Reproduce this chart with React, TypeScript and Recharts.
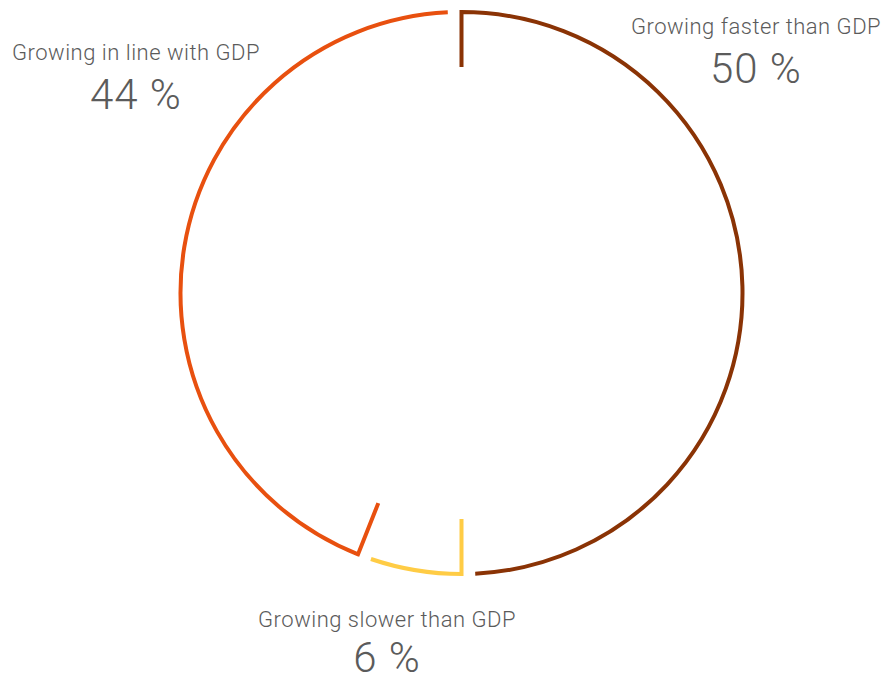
import { PieChart, Pie, Cell } from 'recharts'

const LABELS = ['Growing faster than GDP', 'Growing slower than GDP', 'Growing in line with GDP']
const VALUES = [50, 6, 44]
const COLORS = ['#8a3305', '#ffcc45', '#e8500f']

const data = LABELS.map((name, i) => ({ name, value: VALUES[i] }))

const GAP = 2.8 // degrees left open at the end of each arc
const TICK = 55 // radial tick length at the start of each arc
const TEXT = '#5b5b5b'
const FONT = 'Roboto, "Open Sans", sans-serif'

const RAD = Math.PI / 180
const pt = (cx: number, cy: number, r: number, a: number) => [cx + r * Math.cos(-a * RAD), cy + r * Math.sin(-a * RAD)]

function RingArc(props: any) {
  const { cx, cy, innerRadius, outerRadius, startAngle, endAngle, fill } = props
  const r = (innerRadius + outerRadius) / 2
  const end = endAngle + GAP
  const [ix, iy] = pt(cx, cy, r - TICK, startAngle)
  const [sx, sy] = pt(cx, cy, r, startAngle)
  const [ex, ey] = pt(cx, cy, r, end)
  const large = Math.abs(startAngle - end) > 180 ? 1 : 0
  const d = `M${ix},${iy} L${sx},${sy} A${r},${r} 0 ${large} 1 ${ex},${ey}`
  return <path d={d} fill="none" stroke={fill} strokeWidth={4} strokeLinejoin="miter" />
}

function Callout({ x, y, title, pct, gap = 9 }: { x: number; y: number; title: string; pct: number; gap?: number }) {
  return (
    <div style={{ position: 'absolute', left: x - 200, top: y, width: 400, textAlign: 'center', color: TEXT, fontFamily: FONT, fontWeight: 300 }}>
      <div style={{ fontSize: 22, lineHeight: '26px', letterSpacing: 0.5 }}>{title}</div>
      <div style={{ fontSize: 42, lineHeight: '40px', marginTop: gap, letterSpacing: 1 }}>{pct} %</div>
    </div>
  )
}

export default function App() {
  return (
    <div style={{ position: 'absolute', left: 0, top: 0, width: 885, height: 683, background: '#fff', overflow: 'hidden' }}>
      <PieChart width={885} height={683} margin={{ top: 0, right: 0, bottom: 0, left: 0 }}>
        <Pie
          data={data}
          dataKey="value"
          cx={461.5}
          cy={293}
          innerRadius={279}
          outerRadius={283}
          startAngle={90}
          endAngle={-270}
          stroke="none"
          shape={RingArc}
          isAnimationActive={false}
        >
          {data.map((d, i) => (
            <Cell key={i} fill={COLORS[i]} />
          ))}
        </Pie>
      </PieChart>
      <Callout x={756} y={14} title={LABELS[0]} pct={VALUES[0]} />
      <Callout x={136} y={40} title={LABELS[2]} pct={VALUES[2]} />
      <Callout x={387} y={607} title={LABELS[1]} pct={VALUES[1]} gap={5} />
    </div>
  )
}
